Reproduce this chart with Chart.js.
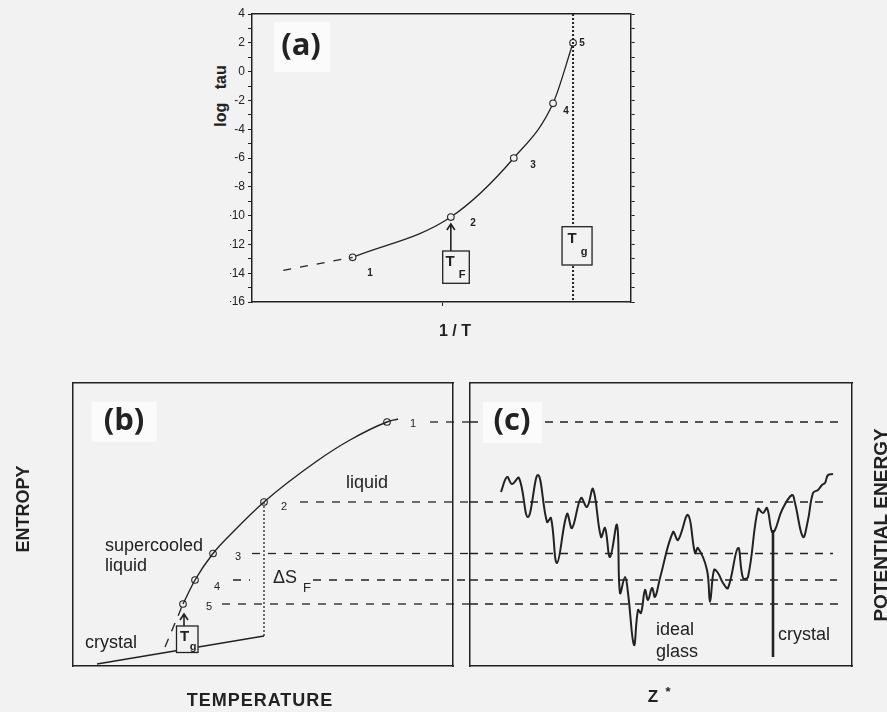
<!DOCTYPE html>
<html>
<head>
<meta charset="utf-8">
<title>Relaxation time, entropy and energy landscape</title>
<script src="https://cdn.jsdelivr.net/npm/chart.js@4.4.0/dist/chart.umd.min.js"></script>
<style>
  html, body { margin: 0; padding: 0; background: #f2f2f2; }
  #page { position: relative; width: 887px; height: 712px; overflow: hidden; background: #f2f2f2; }
  canvas { position: absolute; }
  #logtau { position: absolute; left: 221px; top: 96px; transform: translate(-50%, -50%) rotate(-90deg);
    font: bold 16px "Liberation Sans", Arial, sans-serif; color: #222; white-space: pre; }
</style>
</head>
<body>
<div id="page">
  <canvas id="chartA" width="420" height="350" style="left:230px;top:0"></canvas>
  <canvas id="chartB" width="480" height="342" style="left:0;top:370px"></canvas>
  <canvas id="chartC" width="447" height="342" style="left:440px;top:370px"></canvas>
  <div id="logtau">log   tau</div>
</div>
<script>
const INK = "#222";
const PAPER = "#f2f2f2";
const SANS = '"Liberation Sans", Arial, sans-serif';
const LABEL_FONT = '"Open Sans", "Liberation Sans", sans-serif';

// (a) log tau against 1/T (1/T in arbitrary units)
const tauInvT = [100.7, 199, 262, 301.3, 321.3];
const tauLog = [-12.9, -10.1, -6.0, -2.2, 2.0];
const tauExtrapInvT = [31.3, 100.7];
const tauExtrapLog = [-13.8, -12.9];
const tauTickLabels = [4, 2, 0, -2, -4, -6, -8, -10, -12, -14, -16];
const invTg = 321.3;
const invTf = 191;
const stateNames = ["1", "2", "3", "4", "5"];

// (b) entropy against temperature (arbitrary units)
const liqTemp = [110, 122, 140, 160, 191, 244, 277, 314, 325];
const liqEntropy = [62, 86, 112.5, 134, 164, 205, 226, 244, 247];
const stateTemp = [314, 191, 140, 122, 110];
const stateEntropy = [244, 164, 112.5, 86, 62];
const glassTemp = [92, 110];
const glassEntropy = [19, 62];
const crystalTemp = [24, 191];
const crystalEntropy = [2, 30];
const meltTemp = 191;
const levelStartB = [357, 227, 179, 160, 149];
const levelEndB = 397;          // dashes run on past the frame towards (c)
const deltaSGap = [177, 240];   // gap in level 4 for the ΔS_F label

// (c) potential energy landscape along Z*
const zStar = [31, 37, 42, 49, 58, 68, 77, 81, 87, 97, 102, 111, 117, 123, 131, 135, 140, 147, 150, 155,
  158, 164, 168, 171, 175, 178, 182, 185, 190, 203, 208, 218, 225, 228, 237, 240, 244, 248, 253, 258,
  268, 273, 278, 288, 293, 297, 302, 305, 312, 322, 325, 333, 338, 343, 348, 352, 355, 358, 363];
const potEnergy = [174, 189, 182, 188, 149, 191, 144, 148, 103, 152, 138, 168, 159, 177, 129, 138, 109, 141, 73, 89,
  73, 21, 56, 53, 76, 66, 78, 69, 88, 134, 126, 151, 113, 118, 96, 64, 96, 93, 83, 78,
  118, 88, 89, 157, 153, 158, 134, 136, 156, 171, 163, 129, 146, 173, 176, 181, 183, 191, 192];
const crystalZ = 303;
const crystalWell = [136, 9];
const levelEndC = [373, 357, 363, 367, 370];

const xy = (xs, ys) => xs.map((x, i) => ({ x, y: ys[i] }));

function text(ctx, o, s, x, y, font, align = "center", rot = 0) {
  ctx.save();
  ctx.translate(x - o[0], y - o[1]);
  if (rot) ctx.rotate(rot);
  ctx.font = font;
  ctx.fillStyle = INK;
  ctx.textAlign = align;
  ctx.textBaseline = "middle";
  ctx.fillText(s, 0, 0);
  ctx.restore();
}

function box(ctx, o, x0, y0, x1, y1, fill, stroke) {
  ctx.save();
  ctx.fillStyle = fill;
  ctx.fillRect(x0 - o[0], y0 - o[1], x1 - x0, y1 - y0);
  if (stroke) {
    ctx.strokeStyle = INK;
    ctx.lineWidth = 1.3;
    ctx.strokeRect(x0 - o[0], y0 - o[1], x1 - x0, y1 - y0);
  }
  ctx.restore();
}

function arrowUp(ctx, x, y0, y1) {
  ctx.save();
  ctx.strokeStyle = INK;
  ctx.lineWidth = 1.6;
  ctx.beginPath();
  ctx.moveTo(x, y0); ctx.lineTo(x, y1);
  ctx.moveTo(x - 4, y1 + 6); ctx.lineTo(x, y1); ctx.lineTo(x + 4, y1 + 6);
  ctx.stroke();
  ctx.restore();
}

function frameAxis(position, min, max, size) {
  return {
    type: "linear", position, min, max,
    ticks: { display: false },
    grid: { display: false },
    border: { display: true, color: INK, width: 1.5 },
    afterFit: s => { if (s.isHorizontal()) s.height = size; else s.width = size; }
  };
}

function baseOptions(padding, scales) {
  return {
    responsive: false, animation: false, events: [],
    layout: { padding },
    plugins: { legend: { display: false }, tooltip: { enabled: false } },
    scales
  };
}

// ---------- (a) ----------
const oA = [230, 0];
const notesA = {
  id: "notesA",
  afterDraw(chart) {
    const ctx = chart.ctx;
    const sx = chart.scales.x;
    box(ctx, oA, 274, 22, 330, 72, "#fbfbfb");
    text(ctx, oA, "(a)", 301, 46, "bold 31px " + LABEL_FONT);
    const lab = [[370, 273], [473, 223], [533, 165], [566, 111], [582, 43]];
    lab.forEach((p, i) => text(ctx, oA, stateNames[i], p[0], p[1], "bold 10px " + SANS));
    text(ctx, oA, "1 / T", 455, 332, "bold 16px " + SANS);
    // T_F marker
    const xf = sx.getPixelForValue(tauInvT[1]);
    arrowUp(ctx, xf, 251, 224);
    box(ctx, oA, 442.7, 251, 469.3, 283.3, PAPER, true);
    text(ctx, oA, "T", 450, 262, "bold 15px " + SANS);
    text(ctx, oA, "F", 462, 275, "bold 11px " + SANS);
    // T_g marker
    const xg = sx.getPixelForValue(invTg) + oA[0];
    box(ctx, oA, xg - 11, 226.7, xg + 19, 265, PAPER, true);
    text(ctx, oA, "T", xg - 1, 239, "bold 15px " + SANS);
    text(ctx, oA, "g", xg + 11, 252, "bold 11px " + SANS);
  }
};

new Chart(document.getElementById("chartA"), {
  type: "line",
  data: { datasets: [
    { data: xy(tauExtrapInvT, tauExtrapLog), borderColor: INK, borderWidth: 1.3, borderDash: [8, 9], pointRadius: 0 },
    { data: xy([invTg, invTg], [tauTickLabels[0], tauTickLabels[tauTickLabels.length - 1]]),
      borderColor: INK, borderWidth: 2, borderDash: [2, 2], pointRadius: 0 },
    { data: xy(tauInvT, tauLog), borderColor: INK, borderWidth: 1.3, cubicInterpolationMode: "monotone",
      pointRadius: 3.3, pointBackgroundColor: PAPER, pointBorderColor: INK, pointBorderWidth: 1.1 }
  ]},
  options: baseOptions({ left: 0, right: 11.3, top: 14, bottom: 40 }, {
    x: {
      type: "linear", position: "bottom", min: 0, max: 379,
      afterBuildTicks: s => { s.ticks = [{ value: invTf }]; },
      ticks: { callback: () => "", padding: 0 },
      grid: { drawOnChartArea: false, tickLength: 4, color: INK },
      border: { display: true, color: INK, width: 1.5 },
      afterFit: s => { s.height = 8; }
    },
    x2: frameAxis("top", 0, 379, 0),
    y: {
      type: "linear", position: "left", min: -16, max: 4,
      ticks: { stepSize: 1, autoSkip: false, color: INK, padding: 3, font: { family: SANS, size: 12 },
        callback: v => tauTickLabels.includes(v) ? String(v) : "" },
      grid: { drawOnChartArea: false, tickLength: 4, color: INK },
      border: { display: true, color: INK, width: 1.5 },
      afterFit: s => { s.width = 22; }
    },
    y2: {
      type: "linear", position: "right", min: -16, max: 4,
      ticks: { stepSize: 1, autoSkip: false, padding: 0, callback: () => "" },
      grid: { drawOnChartArea: false, tickLength: 4, color: INK },
      border: { display: true, color: INK, width: 1.5 },
      afterFit: s => { s.width = 8; }
    }
  }),
  plugins: [notesA]
});

// ---------- (b) ----------
const oB = [0, 370];
const levelSetsB = stateEntropy.map((s, i) => {
  let pts = [{ x: levelStartB[i], y: s }, { x: levelEndB, y: s }];
  if (i === 3) pts = [{ x: levelStartB[i], y: s }, { x: deltaSGap[0], y: s }, { x: (deltaSGap[0] + deltaSGap[1]) / 2, y: null },
    { x: deltaSGap[1], y: s }, { x: levelEndB, y: s }];
  return { data: pts, borderColor: INK, borderWidth: 1.3, borderDash: [8, 8], pointRadius: 0, clip: false };
});

const notesB = {
  id: "notesB",
  afterDraw(chart) {
    const ctx = chart.ctx;
    box(ctx, oB, 91.7, 401.7, 156.7, 441.7, "#fbfbfb");
    text(ctx, oB, "(b)", 124, 421, "bold 31px " + LABEL_FONT);
    const lab = [[413, 424], [284, 507], [238, 557], [217, 587], [209, 607]];
    lab.forEach((p, i) => text(ctx, oB, stateNames[i], p[0], p[1], "11px " + SANS));
    text(ctx, oB, "liquid", 346, 483, "18px " + SANS, "left");
    text(ctx, oB, "supercooled", 105, 546, "18px " + SANS, "left");
    text(ctx, oB, "liquid", 105, 566, "18px " + SANS, "left");
    text(ctx, oB, "crystal", 85, 643, "18px " + SANS, "left");
    text(ctx, oB, "\u0394S", 273, 578, "18px " + SANS, "left");
    text(ctx, oB, "F", 307, 588, "13px " + SANS);
    // T_g marker
    const xg = chart.scales.x.getPixelForValue(stateTemp[4]) + oB[0];
    arrowUp(ctx, xg + 1, 626 - oB[1], 614 - oB[1]);
    box(ctx, oB, 176.5, 626, 198, 652.5, PAPER, true);
    text(ctx, oB, "T", 184.5, 637, "bold 15px " + SANS);
    text(ctx, oB, "g", 193, 647, "bold 11px " + SANS);
    text(ctx, oB, "ENTROPY", 24, 509, "bold 18px " + SANS, "center", -Math.PI / 2);
    ctx.save(); ctx.letterSpacing = "1px";
    text(ctx, oB, "TEMPERATURE", 260, 701, "bold 18px " + SANS);
    ctx.restore();
  }
};

new Chart(document.getElementById("chartB"), {
  type: "line",
  data: { datasets: [
    ...levelSetsB,
    { data: xy([meltTemp, meltTemp], [crystalEntropy[1], stateEntropy[1]]), borderColor: INK, borderWidth: 1.3,
      borderDash: [2, 2], pointRadius: 0 },
    { data: xy(crystalTemp, crystalEntropy), borderColor: INK, borderWidth: 1.6, pointRadius: 0 },
    { data: xy(glassTemp, glassEntropy), borderColor: INK, borderWidth: 1.3, borderDash: [9, 8], pointRadius: 0 },
    { data: xy(liqTemp, liqEntropy), borderColor: INK, borderWidth: 1.4, cubicInterpolationMode: "monotone", pointRadius: 0 },
    { data: xy(stateTemp, stateEntropy), showLine: false, pointRadius: 3.3, pointBackgroundColor: PAPER,
      pointBorderColor: INK, pointBorderWidth: 1.1 }
  ]},
  options: baseOptions({ left: 73, right: 27, top: 13, bottom: 46 }, {
    x: frameAxis("bottom", 0, 380, 0),
    x2: frameAxis("top", 0, 380, 0),
    y: frameAxis("left", 0, 283, 0),
    y2: frameAxis("right", 0, 283, 0)
  }),
  plugins: [notesB]
});

// ---------- (c) ----------
const oC = [440, 370];
const levelSetsC = stateEntropy.map((s, i) => ({
  data: [{ x: 0, y: s }, { x: levelEndC[i], y: s }],
  borderColor: INK, borderWidth: 1.3, borderDash: [8, 7], pointRadius: 0
}));

const notesC = {
  id: "notesC",
  afterDraw(chart) {
    const ctx = chart.ctx;
    box(ctx, oC, 483, 402, 542, 443, "#fbfbfb");
    text(ctx, oC, "(c)", 512, 421, "bold 31px " + LABEL_FONT);
    text(ctx, oC, "ideal", 656, 630, "18px " + SANS, "left");
    text(ctx, oC, "glass", 656, 652, "18px " + SANS, "left");
    text(ctx, oC, "crystal", 778, 635, "18px " + SANS, "left");
    text(ctx, oC, "Z", 653, 697, "bold 17px " + SANS);
    text(ctx, oC, "*", 668, 692, "bold 13px " + SANS);
    text(ctx, oC, "POTENTIAL ENERGY", 882, 525, "bold 19px " + SANS, "center", -Math.PI / 2);
  }
};

new Chart(document.getElementById("chartC"), {
  type: "line",
  data: { datasets: [
    ...levelSetsC,
    { data: xy(zStar, potEnergy), borderColor: INK, borderWidth: 2, tension: 0.4, pointRadius: 0 },
    { data: xy([crystalZ, crystalZ], crystalWell), borderColor: INK, borderWidth: 2.6, pointRadius: 0 }
  ]},
  options: baseOptions({ left: 30, right: 35, top: 13, bottom: 46 }, {
    x: frameAxis("bottom", 0, 382, 0),
    x2: frameAxis("top", 0, 382, 0),
    y: frameAxis("left", 0, 283, 0),
    y2: frameAxis("right", 0, 283, 0)
  }),
  plugins: [notesC]
});
</script>
</body>
</html>
